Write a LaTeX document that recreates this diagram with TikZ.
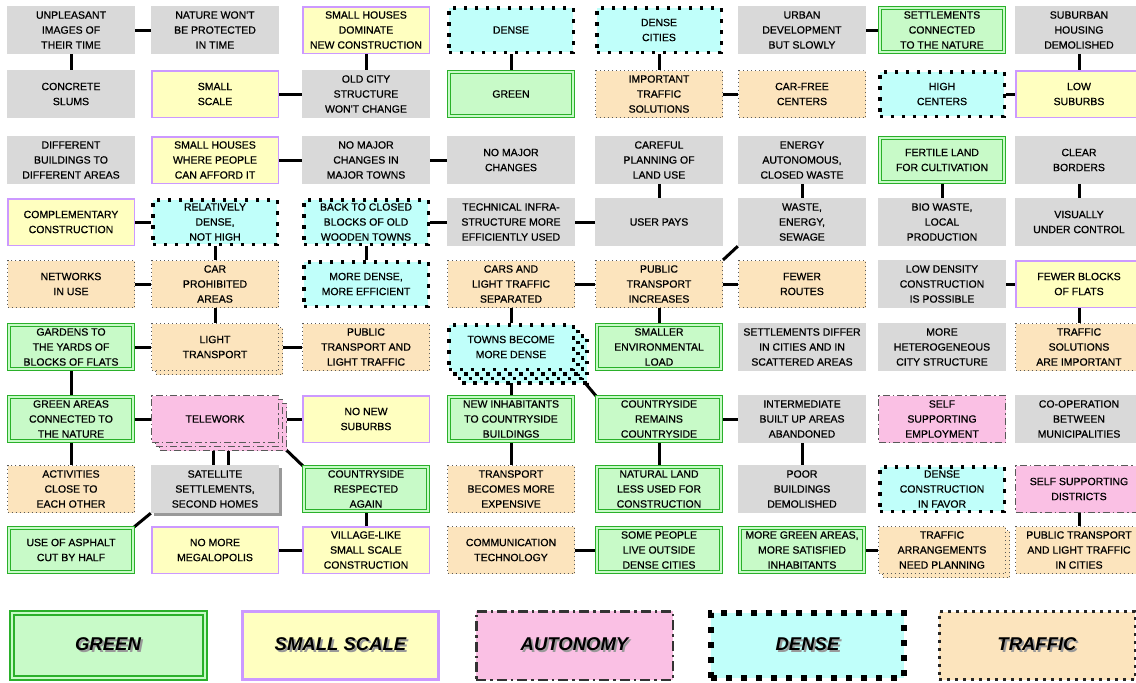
\documentclass[tikz, border = 0pt]{standalone}
\usepackage{fontspec}
\setmainfont{Liberation Sans}
\newfontfamily\boxfont[FakeBold = 0.7]{Liberation Sans}
\usetikzlibrary{shadows, backgrounds}

\definecolor{greyfill}{HTML}{D9D9D9}
\definecolor{scalefill}{HTML}{FFFFC0}
\definecolor{scaleline}{HTML}{CC99FF}
\definecolor{greenfill}{HTML}{C8FAC8}
\definecolor{greenline}{HTML}{2AB02A}
\definecolor{densefill}{HTML}{C0FFFA}
\definecolor{trafficfill}{HTML}{FCE4BD}
\definecolor{autofill}{HTML}{FAC0E4}

\newcommand\legendlabel[1]{\makebox[0pt][l]{\hspace{2pt}\raisebox{-2pt}{\color{black!40}#1}}#1}

\tikzset{
    box/.style        = {inner sep = 0pt, align = center,
                         font = \boxfont\fontsize{10.5}{15}\selectfont},
    greybox/.style    = {box, fill = greyfill,
                         minimum width = 128pt, minimum height = 48pt},
    scalebox/.style   = {box, fill = scalefill, draw = scaleline, line width = 1.5pt,
                         minimum width = 126.5pt, minimum height = 46.5pt},
    greenbox/.style   = {box, fill = greenfill, draw = greenline, line width = 1.2pt,
                         double = greenfill, double distance = 1.5pt,
                         minimum width = 124pt, minimum height = 44pt},
    densebox/.style   = {box, fill = densefill, draw = black, line width = 3.5pt,
                         dash pattern = on 3.5pt off 7.5pt,
                         minimum width = 124.5pt, minimum height = 44.5pt},
    trafficbox/.style = {box, fill = trafficfill, draw = black!65, line width = 1pt,
                         dash pattern = on 1pt off 3pt,
                         minimum width = 127pt, minimum height = 47pt},
    autobox/.style    = {box, fill = autofill, draw = black!65, line width = 1pt,
                         dash pattern = on 7pt off 3pt on 1.5pt off 3pt,
                         minimum width = 127pt, minimum height = 47pt},
    conn/.style       = {line width = 3pt},
    % legend
    legend/.style     = {inner sep = 0pt,
                         font = \fontsize{18.5}{20}\selectfont\bfseries\itshape},
    greenkey/.style   = {legend, fill = greenfill, draw = greenline, line width = 2pt,
                         double = greenfill, double distance = 2pt,
                         minimum width = 193pt, minimum height = 65pt},
    scalekey/.style   = {legend, fill = scalefill, draw = scaleline, line width = 3pt,
                         minimum width = 196pt, minimum height = 68pt},
    autokey/.style    = {legend, fill = autofill, draw = black!80, line width = 2.5pt,
                         dash pattern = on 10pt off 4pt on 2.5pt off 4pt,
                         minimum width = 196.5pt, minimum height = 68.5pt},
    densekey/.style   = {legend, fill = densefill, draw = black, line width = 6pt,
                         dash pattern = on 6pt off 9pt,
                         minimum width = 193pt, minimum height = 65pt},
    traffickey/.style = {legend, fill = trafficfill, draw = black!85, line width = 3pt,
                         dash pattern = on 3pt off 5pt,
                         minimum width = 196pt, minimum height = 68pt},
}

\begin{document}
\begin{tikzpicture}[x = 1pt, y = -1pt]

    \def\colA {71}
    \def\colB {215}
    \def\colC {366}
    \def\colD {511}
    \def\colE {659}
    \def\colF {802}
    \def\colG {942}
    \def\colH {1079}

    \def\rowA {30}
    \def\rowB {94}
    \def\rowC {160}
    \def\rowD {222}
    \def\rowE {284}
    \def\rowF {347}
    \def\rowG {419}
    \def\rowH {489}
    \def\rowI {550}

    \useasboundingbox (0, 0) rectangle (1136, 683);

    % row 1
    \node [greybox]    (unpleasant)     at (\colA, \rowA) {UNPLEASANT\\IMAGES OF\\THEIR TIME};
    \node [greybox]    (naturewont)     at (\colB, \rowA) {NATURE WON'T\\BE PROTECTED\\IN TIME};
    \node [scalebox]   (housesdominate) at (\colC, \rowA) {SMALL HOUSES\\DOMINATE\\NEW CONSTRUCTION};
    \node [densebox]   (dense)          at (\colD, \rowA) {DENSE};
    \node [densebox]   (densecities)    at (\colE, \rowA) {DENSE\\CITIES};
    \node [greybox]    (urban)          at (\colF, \rowA) {URBAN\\DEVELOPMENT\\BUT SLOWLY};
    \node [greenbox]   (connected)      at (\colG, \rowA) {SETTLEMENTS\\CONNECTED\\TO THE NATURE};
    \node [greybox]    (suburban)       at (\colH, \rowA) {SUBURBAN\\HOUSING\\DEMOLISHED};

    % row 2
    \node [greybox]    (slums)          at (\colA, \rowB) {CONCRETE\\SLUMS};
    \node [scalebox]   (smallscale)     at (\colB, \rowB) {SMALL\\SCALE};
    \node [greybox]    (oldcity)        at (\colC, \rowB) {OLD CITY\\STRUCTURE\\WON'T CHANGE};
    \node [greenbox]   (green)          at (\colD, \rowB) {GREEN};
    \node [trafficbox] (importanttraffic) at (\colE, \rowB) {IMPORTANT\\TRAFFIC\\SOLUTIONS};
    \node [trafficbox] (carfree)        at (\colF, \rowB) {CAR-FREE\\CENTERS};
    \node [densebox]   (highcenters)    at (\colG, \rowB) {HIGH\\CENTERS};
    \node [scalebox]   (lowsuburbs)     at (\colH, \rowB) {LOW\\SUBURBS};

    % row 3
    \node [greybox]    (different)      at (\colA, \rowC) {DIFFERENT\\BUILDINGS TO\\DIFFERENT AREAS};
    \node [scalebox]   (afford)         at (\colB, \rowC) {SMALL HOUSES\\WHERE PEOPLE\\CAN AFFORD IT};
    \node [greybox]    (nochangesin)    at (\colC, \rowC) {NO MAJOR\\CHANGES IN\\MAJOR TOWNS};
    \node [greybox]    (nochanges)      at (\colD, \rowC) {NO MAJOR\\CHANGES};
    \node [greybox]    (careful)        at (\colE, \rowC) {CAREFUL\\PLANNING OF\\LAND USE};
    \node [greybox]    (energy)         at (\colF, \rowC) {ENERGY\\AUTONOMOUS,\\CLOSED WASTE};
    \node [greenbox]   (fertile)        at (\colG, \rowC) {FERTILE LAND\\FOR CULTIVATION};
    \node [greybox]    (borders)        at (\colH, \rowC) {CLEAR\\BORDERS};

    % row 4
    \node [scalebox]   (complementary)  at (\colA, \rowD) {COMPLEMENTARY\\CONSTRUCTION};
    \node [densebox]   (relatively)     at (\colB, \rowD) {RELATIVELY\\DENSE,\\NOT HIGH};
    \node [densebox]   (backtoclosed)   at (\colC, \rowD) {BACK TO CLOSED\\BLOCKS OF OLD\\WOODEN TOWNS};
    \node [greybox]    (technical)      at (\colD, \rowD) {TECHNICAL INFRA-\\STRUCTURE MORE\\EFFICIENTLY USED};
    \node [greybox]    (userpays)       at (\colE, \rowD) {USER PAYS};
    \node [greybox]    (waste)          at (\colF, \rowD) {WASTE,\\ENERGY,\\SEWAGE};
    \node [greybox]    (biowaste)       at (\colG, \rowD) {BIO WASTE,\\LOCAL\\PRODUCTION};
    \node [greybox]    (visually)       at (\colH, \rowD) {VISUALLY\\UNDER CONTROL};

    % row 5
    \node [trafficbox] (networks)       at (\colA, \rowE) {NETWORKS\\IN USE};
    \node [trafficbox] (carprohibited)  at (\colB, \rowE) {CAR\\PROHIBITED\\AREAS};
    \node [densebox]   (moredense)      at (\colC, \rowE) {MORE DENSE,\\MORE EFFICIENT};
    \node [trafficbox] (carsandlight)   at (\colD, \rowE) {CARS AND\\LIGHT TRAFFIC\\SEPARATED};
    \node [trafficbox] (publicincreases) at (\colE, \rowE) {PUBLIC\\TRANSPORT\\INCREASES};
    \node [trafficbox] (fewerroutes)    at (\colF, \rowE) {FEWER\\ROUTES};
    \node [greybox]    (lowdensity)     at (\colG, \rowE) {LOW DENSITY\\CONSTRUCTION\\IS POSSIBLE};
    \node [scalebox]   (fewerblocks)    at (\colH, \rowE) {FEWER BLOCKS\\OF FLATS};

    % row 6
    \node [greenbox]   (gardens)        at (\colA, \rowF) {GARDENS TO\\THE YARDS OF\\BLOCKS OF FLATS};
    \node [trafficbox, copy shadow = {shadow xshift = 4pt, shadow yshift = -4pt}]
                       (lighttransport) at (\colB, \rowF) {LIGHT\\TRANSPORT};
    \node [trafficbox] (publiclight)    at (\colC, \rowF) {PUBLIC\\TRANSPORT AND\\LIGHT TRAFFIC};
    \node [densebox,
           copy shadow = {shadow xshift = 13.5pt, shadow yshift = -13.5pt},
           copy shadow = {shadow xshift = 9pt, shadow yshift = -9pt},
           copy shadow = {shadow xshift = 4.5pt, shadow yshift = -4.5pt}]
                       (townsdense)     at (\colD, \rowF) {TOWNS BECOME\\MORE DENSE};
    \node [greenbox]   (smallerload)    at (\colE, \rowF) {SMALLER\\ENVIRONMENTAL\\LOAD};
    \node [greybox]    (settlementsdiffer) at (\colF, \rowF) {SETTLEMENTS DIFFER\\IN CITIES AND IN\\SCATTERED AREAS};
    \node [greybox]    (heterogeneous)  at (\colG, \rowF) {MORE\\HETEROGENEOUS\\CITY STRUCTURE};
    \node [trafficbox] (trafficimportant) at (\colH, \rowF) {TRAFFIC\\SOLUTIONS\\ARE IMPORTANT};

    % row 7
    \node [greenbox]   (greenareas)     at (\colA, \rowG) {GREEN AREAS\\CONNECTED TO\\THE NATURE};
    \node [autobox,
           copy shadow = {shadow xshift = 8pt, shadow yshift = -8pt},
           copy shadow = {shadow xshift = 4pt, shadow yshift = -4pt}]
                       (telework)       at (\colB, \rowG) {TELEWORK};
    \node [scalebox]   (nonewsuburbs)   at (\colC, \rowG) {NO NEW\\SUBURBS};
    \node [greenbox]   (newinhabitants) at (\colD, \rowG) {NEW INHABITANTS\\TO COUNTRYSIDE\\BUILDINGS};
    \node [greenbox]   (countrysideremains) at (\colE, \rowG) {COUNTRYSIDE\\REMAINS\\COUNTRYSIDE};
    \node [greybox]    (intermediate)   at (\colF, \rowG) {INTERMEDIATE\\BUILT UP AREAS\\ABANDONED};
    \node [autobox]    (selfemployment) at (\colG, \rowG) {SELF\\SUPPORTING\\EMPLOYMENT};
    \node [greybox]    (cooperation)    at (\colH, \rowG) {CO-OPERATION\\BETWEEN\\MUNICIPALITIES};

    % row 8
    \node [trafficbox] (activities)     at (\colA, \rowH) {ACTIVITIES\\CLOSE TO\\EACH OTHER};
    \node [greybox, drop shadow = {shadow xshift = 3pt, shadow yshift = -3pt,
                                   fill = black!40, opacity = 1}]
                       (satellite)      at (\colB, \rowH) {SATELLITE\\SETTLEMENTS,\\SECOND HOMES};
    \node [greenbox]   (countrysiderespected) at (\colC, \rowH) {COUNTRYSIDE\\RESPECTED\\AGAIN};
    \node [trafficbox] (transportexpensive) at (\colD, \rowH) {TRANSPORT\\BECOMES MORE\\EXPENSIVE};
    \node [greenbox]   (naturalland)    at (\colE, \rowH) {NATURAL LAND\\LESS USED FOR\\CONSTRUCTION};
    \node [greybox]    (poorbuildings)  at (\colF, \rowH) {POOR\\BUILDINGS\\DEMOLISHED};
    \node [densebox]   (denseconstruction) at (\colG, \rowH) {DENSE\\CONSTRUCTION\\IN FAVOR};
    \node [autobox]    (selfdistricts)  at (\colH, \rowH) {SELF SUPPORTING\\DISTRICTS};

    % row 9
    \node [greenbox]   (asphalt)        at (\colA, \rowI) {USE OF ASPHALT\\CUT BY HALF};
    \node [scalebox]   (megalopolis)    at (\colB, \rowI) {NO MORE\\MEGALOPOLIS};
    \node [scalebox]   (villagelike)    at (\colC, \rowI) {VILLAGE-LIKE\\SMALL SCALE\\CONSTRUCTION};
    \node [trafficbox] (communication)  at (\colD, \rowI) {COMMUNICATION\\TECHNOLOGY};
    \node [greenbox]   (somepeople)     at (\colE, \rowI) {SOME PEOPLE\\LIVE OUTSIDE\\DENSE CITIES};
    \node [greenbox]   (moregreen)      at (\colF, \rowI) {MORE GREEN AREAS,\\MORE SATISFIED\\INHABITANTS};
    \node [trafficbox, copy shadow = {shadow xshift = 4pt, shadow yshift = -4pt}]
                       (trafficplanning) at (\colG, \rowI) {TRAFFIC\\ARRANGEMENTS\\NEED PLANNING};
    \node [trafficbox] (publiccities)   at (\colH, \rowI) {PUBLIC TRANSPORT\\AND LIGHT TRAFFIC\\IN CITIES};

    % legend
    \node [greenkey]   (legend green)   at (108, 645.5)  {\legendlabel{GREEN}};
    \node [scalekey]   (legend scale)   at (340.5, 645.5) {\legendlabel{SMALL SCALE}};
    \node [autokey]    (legend auto)    at (574.5, 645.5) {\legendlabel{AUTONOMY}};
    \node [densekey]   (legend dense)   at (807.5, 645.5) {\legendlabel{DENSE}};
    \node [traffickey] (legend traffic) at (1037, 645.5) {\legendlabel{TRAFFIC}};

    % connectors
    \begin{scope}[on background layer]
        \draw [conn] (unpleasant) -- (naturewont);
        \draw [conn] (urban) -- (connected);
        \draw [conn] (unpleasant) -- (slums);
        \draw [conn] (housesdominate) -- (oldcity);
        \draw [conn] (dense) -- (green);
        \draw [conn] (densecities) -- (importanttraffic);
        \draw [conn] (suburban) -- (lowsuburbs);

        \draw [conn] (smallscale) -- (oldcity);
        \draw [conn] (importanttraffic) -- (carfree);
        \draw [conn] (highcenters) -- (lowsuburbs);

        \draw [conn] (afford) -- (nochangesin);
        \draw [conn] (nochangesin) -- (nochanges);
        \draw [conn] (careful) -- (userpays);
        \draw [conn] (energy) -- (waste);
        \draw [conn] (fertile) -- (biowaste);
        \draw [conn] (borders) -- (visually);

        \draw [conn] (complementary) -- (relatively);
        \draw [conn] (backtoclosed) -- (technical);
        \draw [conn] (technical) -- (userpays);
        \draw [conn] (relatively) -- (carprohibited);
        \draw [conn] (backtoclosed) -- (moredense);
        \draw [conn] (waste.south west) -- (publicincreases.north east);

        \draw [conn] (networks) -- (carprohibited);
        \draw [conn] (carsandlight) -- (publicincreases);
        \draw [conn] (publicincreases) -- (fewerroutes);
        \draw [conn] (lowdensity) -- (fewerblocks);
        \draw [conn] (carprohibited) -- (lighttransport);
        \draw [conn] (carsandlight) -- (townsdense);
        \draw [conn] (publicincreases) -- (smallerload);
        \draw [conn] (fewerblocks) -- (trafficimportant);

        \draw [conn] (gardens) -- (lighttransport);
        \draw [conn] (lighttransport) -- (publiclight);
        \draw [conn] (gardens) -- (greenareas);
        \draw [conn] (townsdense) -- (newinhabitants);
        \draw [conn] (townsdense.south east) -- (countrysideremains.north west);

        \draw [conn] (greenareas) -- (telework);
        \draw [conn] (telework) -- (nonewsuburbs);
        \draw [conn] (countrysideremains) -- (intermediate);
        \draw [conn] (greenareas) -- (activities);
        \draw [conn] ([xshift = -2pt] telework.south) -- ([xshift = -2pt] satellite.north);
        \draw [conn] ([xshift = 13pt] telework.south) -- ([xshift = 13pt] satellite.north);
        \draw [conn] (telework.south east) -- (countrysiderespected.north west);
        \draw [conn] (newinhabitants) -- (transportexpensive);
        \draw [conn] (countrysideremains) -- (naturalland);
        \draw [conn] (intermediate) -- (poorbuildings);

        \draw [conn] (countrysiderespected) -- (villagelike);
        \draw [conn] (selfdistricts) -- (publiccities);
        \draw [conn] (satellite.south west) -- (asphalt.north east);

        \draw [conn] (megalopolis) -- (villagelike);
        \draw [conn] (communication) -- (somepeople);
        \draw [conn] (moregreen) -- (trafficplanning);
    \end{scope}

\end{tikzpicture}
\end{document}
